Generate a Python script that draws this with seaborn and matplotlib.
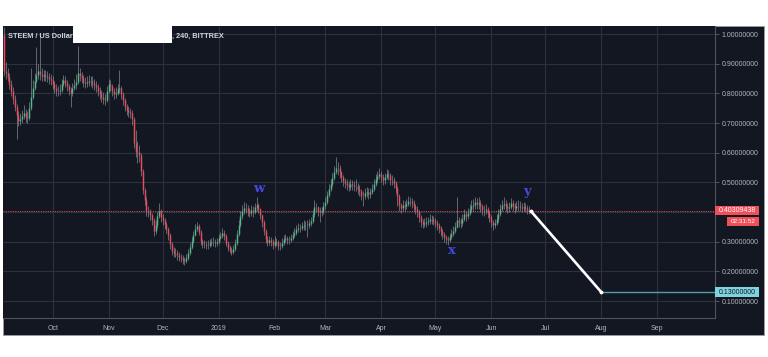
import matplotlib
matplotlib.use("Agg")
import matplotlib.pyplot as plt
from matplotlib.patches import Rectangle
import pandas as pd
import seaborn as sns

sns.set_theme(style="dark")
plt.rcParams["font.family"] = ["Liberation Sans", "DejaVu Sans"]

# ---------- DATA (STEEM/USD, daily candles) ----------
start_date = "2018-09-04"
first_open = 0.995
closes = [
    0.875, 0.869, 0.855, 0.831, 0.808, 0.781, 0.754, 0.727, 0.707, 0.713,
    0.724, 0.734, 0.720, 0.717, 0.751, 0.788, 0.818, 0.842, 0.862, 0.875,
    0.865, 0.858, 0.862, 0.858, 0.855, 0.848, 0.845, 0.831, 0.818, 0.808,
    0.808, 0.811, 0.831, 0.845, 0.835, 0.825, 0.811, 0.801, 0.818, 0.828,
    0.838, 0.869, 0.858, 0.852, 0.838, 0.835, 0.838, 0.842, 0.842, 0.835,
    0.828, 0.821, 0.808, 0.798, 0.788, 0.781, 0.778, 0.808, 0.831, 0.825,
    0.808, 0.798, 0.801, 0.815, 0.818, 0.798, 0.778, 0.754, 0.744, 0.737,
    0.734, 0.713, 0.633, 0.602, 0.602, 0.592, 0.538, 0.474, 0.441, 0.403,
    0.400, 0.390, 0.373, 0.336, 0.356, 0.387, 0.403, 0.383, 0.373, 0.360,
    0.343, 0.323, 0.292, 0.269, 0.262, 0.262, 0.255, 0.248, 0.245, 0.238,
    0.235, 0.245, 0.262, 0.282, 0.302, 0.323, 0.343, 0.353, 0.333, 0.302,
    0.292, 0.292, 0.289, 0.289, 0.296, 0.299, 0.299, 0.296, 0.299, 0.312,
    0.319, 0.329, 0.319, 0.296, 0.279, 0.272, 0.265, 0.275, 0.296, 0.326,
    0.356, 0.387, 0.403, 0.414, 0.414, 0.403, 0.397, 0.407, 0.400, 0.417,
    0.424, 0.410, 0.390, 0.366, 0.336, 0.309, 0.299, 0.306, 0.299, 0.289,
    0.302, 0.299, 0.285, 0.285, 0.296, 0.309, 0.312, 0.306, 0.306, 0.312,
    0.323, 0.329, 0.343, 0.346, 0.346, 0.353, 0.356, 0.356, 0.356, 0.363,
    0.370, 0.393, 0.417, 0.417, 0.403, 0.400, 0.403, 0.420, 0.434, 0.457,
    0.478, 0.494, 0.515, 0.535, 0.548, 0.548, 0.535, 0.518, 0.505, 0.498,
    0.491, 0.484, 0.494, 0.491, 0.488, 0.488, 0.478, 0.471, 0.454, 0.454,
    0.464, 0.467, 0.461, 0.467, 0.478, 0.494, 0.511, 0.521, 0.528, 0.518,
    0.508, 0.518, 0.528, 0.525, 0.508, 0.508, 0.498, 0.481, 0.454, 0.424,
    0.414, 0.424, 0.420, 0.427, 0.437, 0.437, 0.430, 0.420, 0.410, 0.403,
    0.383, 0.366, 0.360, 0.363, 0.366, 0.370, 0.376, 0.376, 0.370, 0.363,
    0.356, 0.346, 0.336, 0.326, 0.316, 0.309, 0.306, 0.316, 0.326, 0.336,
    0.350, 0.373, 0.366, 0.363, 0.376, 0.393, 0.387, 0.397, 0.410, 0.420,
    0.424, 0.434, 0.427, 0.430, 0.420, 0.407, 0.407, 0.410, 0.397, 0.383,
    0.366, 0.356, 0.363, 0.376, 0.393, 0.410, 0.424, 0.427, 0.420, 0.414,
    0.417, 0.430, 0.420, 0.414, 0.420, 0.420, 0.417, 0.414, 0.417, 0.414,
    0.407, 0.403,
]
highs = [
    1.025, 0.905, 0.885, 0.870, 0.845, 0.820, 0.795, 0.765, 0.740, 0.735,
    0.745, 0.760, 0.748, 0.740, 0.772, 0.885, 0.845, 0.870, 0.955, 0.900,
    1.000, 0.885, 0.880, 0.878, 0.875, 0.870, 0.865, 0.858, 0.840, 0.830,
    0.825, 0.830, 0.850, 0.862, 0.858, 0.845, 0.832, 0.822, 0.835, 0.850,
    0.865, 0.960, 0.885, 0.872, 0.862, 0.855, 0.858, 0.862, 0.860, 0.858,
    0.850, 0.842, 0.830, 0.820, 0.812, 0.805, 0.798, 0.825, 0.850, 0.845,
    0.832, 0.818, 0.820, 0.832, 0.880, 0.825, 0.805, 0.785, 0.765, 0.758,
    0.752, 0.745, 0.720, 0.676, 0.640, 0.625, 0.600, 0.545, 0.480, 0.450,
    0.420, 0.412, 0.398, 0.380, 0.372, 0.400, 0.430, 0.412, 0.392, 0.380,
    0.365, 0.350, 0.328, 0.298, 0.282, 0.278, 0.272, 0.265, 0.260, 0.255,
    0.250, 0.258, 0.275, 0.295, 0.315, 0.335, 0.360, 0.368, 0.360, 0.340,
    0.310, 0.305, 0.302, 0.305, 0.310, 0.312, 0.315, 0.310, 0.312, 0.325,
    0.332, 0.345, 0.338, 0.325, 0.302, 0.288, 0.282, 0.290, 0.310, 0.340,
    0.372, 0.405, 0.425, 0.435, 0.430, 0.425, 0.415, 0.425, 0.420, 0.432,
    0.451, 0.432, 0.415, 0.395, 0.372, 0.342, 0.318, 0.320, 0.315, 0.308,
    0.318, 0.312, 0.305, 0.298, 0.312, 0.322, 0.325, 0.320, 0.318, 0.326,
    0.336, 0.345, 0.358, 0.362, 0.360, 0.368, 0.372, 0.370, 0.372, 0.378,
    0.385, 0.408, 0.440, 0.432, 0.422, 0.418, 0.418, 0.435, 0.450, 0.472,
    0.495, 0.512, 0.532, 0.555, 0.585, 0.570, 0.558, 0.540, 0.525, 0.515,
    0.510, 0.505, 0.512, 0.508, 0.505, 0.510, 0.498, 0.490, 0.478, 0.470,
    0.480, 0.484, 0.480, 0.482, 0.495, 0.510, 0.528, 0.540, 0.548, 0.540,
    0.528, 0.532, 0.545, 0.542, 0.530, 0.525, 0.518, 0.505, 0.488, 0.460,
    0.432, 0.440, 0.438, 0.445, 0.455, 0.452, 0.448, 0.440, 0.428, 0.420,
    0.408, 0.390, 0.378, 0.380, 0.382, 0.385, 0.392, 0.390, 0.388, 0.380,
    0.372, 0.362, 0.352, 0.342, 0.332, 0.322, 0.318, 0.330, 0.342, 0.352,
    0.368, 0.451, 0.385, 0.380, 0.392, 0.410, 0.405, 0.415, 0.428, 0.440,
    0.445, 0.452, 0.448, 0.450, 0.440, 0.428, 0.425, 0.428, 0.418, 0.402,
    0.390, 0.372, 0.378, 0.392, 0.410, 0.428, 0.442, 0.452, 0.440, 0.432,
    0.435, 0.448, 0.442, 0.432, 0.438, 0.440, 0.436, 0.432, 0.435, 0.432,
    0.425, 0.420,
]
lows = [
    0.860, 0.850, 0.840, 0.815, 0.790, 0.765, 0.740, 0.645, 0.690, 0.695,
    0.700, 0.712, 0.705, 0.700, 0.710, 0.745, 0.780, 0.810, 0.835, 0.850,
    0.845, 0.840, 0.840, 0.842, 0.838, 0.832, 0.828, 0.815, 0.800, 0.792,
    0.790, 0.795, 0.805, 0.825, 0.820, 0.808, 0.795, 0.755, 0.790, 0.810,
    0.815, 0.830, 0.840, 0.835, 0.820, 0.818, 0.820, 0.825, 0.825, 0.818,
    0.812, 0.805, 0.790, 0.782, 0.772, 0.765, 0.760, 0.770, 0.800, 0.808,
    0.792, 0.782, 0.785, 0.795, 0.800, 0.782, 0.762, 0.740, 0.728, 0.722,
    0.718, 0.695, 0.615, 0.585, 0.565, 0.570, 0.520, 0.460, 0.425, 0.388,
    0.382, 0.372, 0.355, 0.320, 0.325, 0.345, 0.380, 0.368, 0.355, 0.342,
    0.328, 0.305, 0.275, 0.255, 0.250, 0.248, 0.240, 0.235, 0.232, 0.225,
    0.222, 0.228, 0.238, 0.255, 0.275, 0.295, 0.318, 0.335, 0.322, 0.290,
    0.278, 0.280, 0.275, 0.276, 0.282, 0.285, 0.286, 0.283, 0.285, 0.292,
    0.305, 0.312, 0.305, 0.285, 0.268, 0.262, 0.255, 0.258, 0.268, 0.290,
    0.318, 0.350, 0.378, 0.395, 0.396, 0.388, 0.382, 0.388, 0.385, 0.392,
    0.405, 0.398, 0.375, 0.350, 0.322, 0.295, 0.285, 0.290, 0.285, 0.275,
    0.282, 0.286, 0.272, 0.272, 0.280, 0.290, 0.298, 0.292, 0.294, 0.298,
    0.305, 0.315, 0.322, 0.332, 0.333, 0.338, 0.340, 0.340, 0.316, 0.345,
    0.352, 0.362, 0.385, 0.400, 0.388, 0.368, 0.388, 0.395, 0.412, 0.428,
    0.450, 0.470, 0.488, 0.508, 0.528, 0.525, 0.515, 0.500, 0.488, 0.482,
    0.475, 0.470, 0.476, 0.476, 0.472, 0.472, 0.462, 0.455, 0.440, 0.420,
    0.445, 0.450, 0.445, 0.448, 0.460, 0.470, 0.488, 0.502, 0.510, 0.500,
    0.492, 0.495, 0.510, 0.508, 0.490, 0.490, 0.480, 0.465, 0.420, 0.405,
    0.398, 0.405, 0.405, 0.410, 0.420, 0.420, 0.415, 0.405, 0.395, 0.385,
    0.365, 0.348, 0.345, 0.348, 0.350, 0.355, 0.360, 0.360, 0.355, 0.348,
    0.340, 0.330, 0.320, 0.310, 0.300, 0.292, 0.290, 0.298, 0.308, 0.318,
    0.330, 0.345, 0.350, 0.345, 0.352, 0.370, 0.370, 0.378, 0.390, 0.400,
    0.405, 0.412, 0.410, 0.410, 0.400, 0.390, 0.388, 0.392, 0.380, 0.365,
    0.350, 0.340, 0.345, 0.355, 0.368, 0.388, 0.405, 0.410, 0.405, 0.398,
    0.400, 0.412, 0.405, 0.398, 0.402, 0.405, 0.402, 0.400, 0.402, 0.400,
    0.395, 0.395,
]

last_price = 0.40309438
countdown = "02:31:52"
projection_dates = ["2019-06-23", "2019-08-01"]
projection_prices = [last_price, 0.13]
target_price = 0.13

wave_labels = ["w", "x", "y"]
wave_dates = ["2019-01-23", "2019-05-10", "2019-06-21"]
wave_prices = [0.478, 0.272, 0.468]

month_labels = ["Oct", "Nov", "Dec", "2019", "Feb", "Mar", "Apr", "May",
                "Jun", "Jul", "Aug", "Sep"]
price_ticks = [0.1, 0.2, 0.3, 0.4, 0.5, 0.6, 0.7, 0.8, 0.9, 1.0]

# ---------- FRAME ----------
BG = "#131722"
GRID = "#2d313d"
TXT = "#b2b5be"
W, H = 768, 357
Y0, Y1 = 0.043, 1.027

df = pd.DataFrame({
    "date": pd.date_range(start_date, periods=len(closes), freq="D"),
    "open": [first_open] + closes[:-1],
    "high": highs,
    "low": lows,
    "close": closes,
})
df["up"] = df["close"] >= df["open"]

fig = plt.figure(figsize=(W / 100, H / 100), dpi=100)
fig.patch.set_facecolor("white")
fig.add_artist(Rectangle((3 / W, 1 - 335 / H), 761 / W, 309 / H,
                         transform=fig.transFigure, facecolor=BG,
                         edgecolor="#9a9ca3", lw=0.6, zorder=0))

ax = fig.add_axes([3 / W, 1 - 318 / H, 712 / W, 292 / H])
ax.set_facecolor(BG)

# ---------- CANDLES ----------
ax.vlines(df["date"], df["low"], df["high"], color="#8f939c", lw=0.45, zorder=3)
body_colors = ["#53b987" if u else "#eb4d5c" for u in df["up"]]
ax.vlines(df["date"], df["open"], df["close"], colors=body_colors, lw=1.05, zorder=4)

# ---------- LINES ----------
ax.axhline(last_price, color="#d9434f", ls=(0, (1.2, 1.2)), lw=0.7, zorder=2)
proj = pd.DataFrame({"date": pd.to_datetime(projection_dates), "price": projection_prices})
sns.lineplot(data=proj, x="date", y="price", color="white", lw=1.9, ax=ax, zorder=5)
ax.scatter(proj["date"], proj["price"], s=3, color="white", zorder=6)

x_end = pd.Timestamp(start_date) + pd.Timedelta(days=394)
ax.hlines(target_price, pd.Timestamp(projection_dates[1]), x_end,
          color="#4e9eab", lw=1.0, zorder=5)

for lab, d, p in zip(wave_labels, wave_dates, wave_prices):
    ax.text(pd.Timestamp(d), p, lab, color="#4548db", fontsize=9.5,
            fontweight="bold", family="DejaVu Serif", ha="center", va="center",
            zorder=7)

# ---------- AXES ----------
ax.set_xlim(pd.Timestamp(start_date) - pd.Timedelta(hours=12), x_end)
ax.set_ylim(Y0, Y1)

ax.set_xticks(pd.date_range("2018-10-01", periods=len(month_labels), freq="MS"))
ax.set_xticklabels(month_labels)
ax.set_yticks(price_ticks)
# the 0.4 label sits under the last-price badge, so it is left blank
ax.set_yticklabels(["" if abs(v - last_price) < 0.02 else f"{v:.8f}" for v in price_ticks])
ax.yaxis.tick_right()
ax.tick_params(axis="y", colors=TXT, labelsize=5, length=3, width=0.6,
               pad=1.5, direction="out", color="#5d606b")
ax.tick_params(axis="x", colors=TXT, labelsize=5, length=0, pad=5)
ax.set_xlabel("")
ax.set_ylabel("")
ax.grid(True, color=GRID, lw=0.8)
for side in ["top", "left"]:
    ax.spines[side].set_visible(False)
for side in ["right", "bottom"]:
    ax.spines[side].set_color("#50535e")
    ax.spines[side].set_linewidth(0.8)

# ---------- PRICE BADGES ----------
def ypx(v):
    return 318 - (v - Y0) / (Y1 - Y0) * 292

def badge(x0, x1, yc, h, fc, text, tc, fs=5):
    fig.add_artist(Rectangle((x0 / W, 1 - (yc + h / 2) / H), (x1 - x0) / W, h / H,
                             transform=fig.transFigure, facecolor=fc,
                             edgecolor="none", zorder=10))
    fig.text((x0 + x1) / 2 / W, 1 - yc / H, text, color=tc, fontsize=fs,
             ha="center", va="center", zorder=11)

yl = ypx(last_price)
badge(715, 759, yl - 0.5, 9, "#f0505a", f"{last_price:.8f}", "white")
badge(727, 759, yl + 10.5, 9, "#f0505a", countdown, "white", fs=4.6)
badge(715, 759, ypx(target_price), 9.5, "#7fd3df", f"{target_price:.8f}", "#131722")

# ---------- TITLE ----------
fig.text(8 / W, 1 - 36 / H, "STEEM / US Dollar", color="#d1d4dc", fontsize=5.3,
         fontweight="bold", va="center", ha="left")
fig.text(172 / W, 1 - 36 / H, ", 240, BITTREX", color="#d1d4dc", fontsize=5.3,
         fontweight="bold", va="center", ha="left")
fig.add_artist(Rectangle((73 / W, 1 - 43 / H), 99 / W, 17 / H,
                         transform=fig.transFigure, facecolor="white",
                         edgecolor="none", zorder=12))

fig.savefig("out.png", dpi=100, facecolor="white")
